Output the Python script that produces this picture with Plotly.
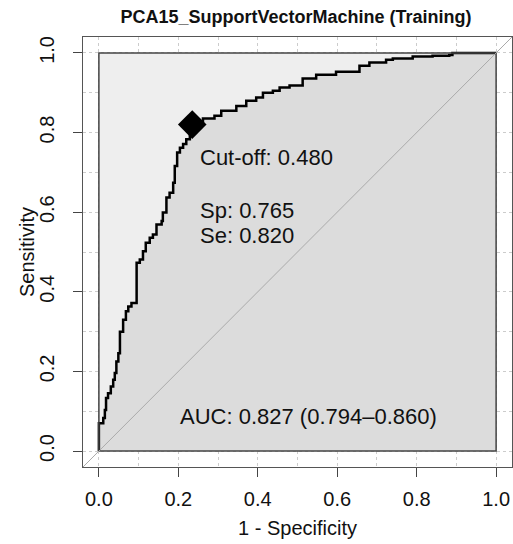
import plotly.graph_objects as go

# ROC curve points (1 - specificity, sensitivity)
fpr = [0.0, 0.0, 0.011, 0.015, 0.018, 0.023, 0.030, 0.036, 0.040, 0.044,
       0.049, 0.053, 0.061, 0.068, 0.074, 0.082, 0.095, 0.103, 0.111, 0.118,
       0.128, 0.136, 0.145, 0.158, 0.161, 0.170, 0.178, 0.187, 0.191, 0.197,
       0.204, 0.212, 0.220, 0.229, 0.235, 0.262, 0.291, 0.308, 0.346, 0.371,
       0.396, 0.413, 0.438, 0.455, 0.480, 0.513, 0.547, 0.597, 0.656, 0.681,
       0.723, 0.740, 0.790, 0.840, 0.882, 0.890, 1.0]
tpr = [0.0, 0.070, 0.083, 0.103, 0.133, 0.145, 0.162, 0.179, 0.196, 0.225,
       0.246, 0.300, 0.330, 0.351, 0.363, 0.372, 0.473, 0.481, 0.502, 0.523,
       0.536, 0.544, 0.569, 0.578, 0.599, 0.637, 0.649, 0.674, 0.716, 0.750,
       0.762, 0.771, 0.783, 0.796, 0.820, 0.835, 0.842, 0.855, 0.867, 0.880,
       0.888, 0.900, 0.905, 0.913, 0.918, 0.936, 0.945, 0.953, 0.968, 0.976,
       0.983, 0.986, 0.991, 0.993, 0.995, 1.0, 1.0]

best_fpr = [0.235]
best_tpr = [0.820]
cutoff = 0.480
spec = 0.765
sens = 0.820
auc, auc_lo, auc_hi = 0.827, 0.794, 0.860

title = "PCA15_SupportVectorMachine (Training)"
x_title = "1 - Specificity"
y_title = "Sensitivity"
tick_vals = [0, 0.2, 0.4, 0.6, 0.8, 1.0]
tick_text = ["0.0", "0.2", "0.4", "0.6", "0.8", "1.0"]

font = "Liberation Sans, Arial, sans-serif"
ink = "#111111"
light = "#EEEEEE"
dark = "#DCDCDC"

fig = go.Figure()

# area under the curve
fig.add_trace(go.Scatter(
    x=fpr, y=tpr, mode="lines", line=dict(color="black", width=2.5, shape="hv"),
    fill="tozeroy", fillcolor=dark, hoverinfo="skip", showlegend=False,
))

# best threshold
fig.add_trace(go.Scatter(
    x=best_fpr, y=best_tpr, mode="markers",
    marker=dict(symbol="diamond", size=22, color="black"),
    showlegend=False,
))

# full square (max auc polygon)
fig.add_shape(type="rect", x0=0, y0=0, x1=1, y1=1, xref="x", yref="y",
              fillcolor=light, line=dict(width=0), layer="between")
fig.add_shape(type="rect", x0=0, y0=0, x1=1, y1=1, xref="x", yref="y",
              line=dict(color="#444444", width=1.5), layer="above")
# diagonal
fig.add_shape(type="line", x0=-0.1, y0=-0.1, x1=1.1, y1=1.1, xref="x", yref="y",
              line=dict(color="#AAAAAA", width=1), layer="above")

txt = dict(size=22, color=ink, family=font)
fig.add_annotation(x=0.249, y=0.738, text=f"Cut-off: {cutoff:.3f}", showarrow=False,
                   xanchor="left", yanchor="middle", font=txt)
fig.add_annotation(x=0.249, y=0.605, text=f"Sp: {spec:.3f}", showarrow=False,
                   xanchor="left", yanchor="middle", font=txt)
fig.add_annotation(x=0.249, y=0.542, text=f"Se: {sens:.3f}", showarrow=False,
                   xanchor="left", yanchor="middle", font=txt)
fig.add_annotation(x=0.198, y=0.088, text=f"AUC: {auc:.3f} ({auc_lo:.3f}\u2013{auc_hi:.3f})",
                   showarrow=False, xanchor="left", yanchor="middle", font=txt)

# y axis title placed by hand (R puts it close to the tick labels)
fig.add_annotation(x=0, y=0.5, xref="paper", yref="paper", xshift=-56,
                   text=y_title, textangle=-90, showarrow=False,
                   xanchor="center", yanchor="middle",
                   font=dict(size=20, color=ink, family=font))

axis_common = dict(
    tickvals=tick_vals, ticktext=tick_text, ticks="outside", ticklen=9,
    tickcolor="#444444", tickwidth=1.2,
    showline=True, mirror=True, linecolor="#555555", linewidth=1,
    showgrid=True, gridcolor="#CCCCCC", griddash="dot", gridwidth=1,
    zeroline=False, automargin=False,
    minor=dict(dtick=0.1, tick0=0, showgrid=True, gridcolor="#CCCCCC",
               griddash="dot", gridwidth=1, ticks=""),
    tickfont=dict(size=20, color=ink, family=font),
)

fig.update_xaxes(range=[-0.04, 1.04],
                 title=dict(text=x_title, font=dict(size=20, color=ink, family=font),
                            standoff=11),
                 ticklabelstandoff=5, **axis_common)
fig.update_yaxes(range=[-0.04, 1.04], tickangle=-90,
                 ticklabelstandoff=11, **axis_common)

fig.update_layout(
    width=513, height=544,
    margin=dict(l=83, r=1, t=37, b=77, autoexpand=False),
    plot_bgcolor="white", paper_bgcolor="white",
    title=dict(text=f"<b>{title}</b>", x=296 / 513, xanchor="center",
               y=1 - 17 / 544, yanchor="middle",
               font=dict(size=18, color=ink, family=font)),
    showlegend=False,
)

# drop the default body margin so the figure fills the window exactly
fig.write_html("out.html", config={"displayModeBar": False},
               post_script="document.body.style.margin='0';document.body.style.overflow='hidden';")
